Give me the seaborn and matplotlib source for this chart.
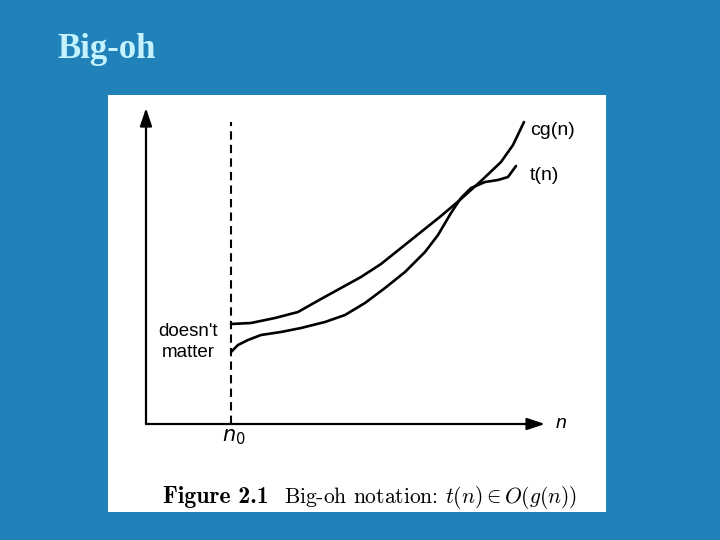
import matplotlib
matplotlib.use("Agg")
import matplotlib.pyplot as plt
import seaborn as sns
import pandas as pd

sns.set_theme(style="white")
plt.rcParams['font.family'] = ['Liberation Sans', 'DejaVu Sans']
plt.rcParams['mathtext.fontset'] = 'cm'
plt.rcParams['axes.unicode_minus'] = False

# Data (abstract units: n along x, running time along y)
cg_n = [85, 105, 129, 152, 175, 195, 215, 235, 255, 275, 295, 315, 335, 355, 367, 378]
cg_val = [100, 101, 106, 112, 125, 136, 147, 160, 176, 192, 208, 225, 243, 262, 279, 302]
t_n = [85, 92, 102, 115, 135, 155, 179, 199, 219, 239, 259, 279, 292, 305, 315, 325,
       339, 352, 362, 370]
t_val = [72, 79, 84, 89, 92, 96, 102, 109, 121, 136, 152, 172, 189, 211, 226, 236,
         242, 244, 247, 258]
n0 = 85
curve_labels = ["cg(n)", "t(n)"]

df = pd.concat([
    pd.DataFrame({"n": cg_n, "v": cg_val, "curve": curve_labels[0]}),
    pd.DataFrame({"n": t_n, "v": t_val, "curve": curve_labels[1]}),
])

BLUE = "#2181B9"
fig = plt.figure(figsize=(7.2, 5.4), dpi=100, facecolor=BLUE)

# Title
fig.text(57 / 720, 1 - 49 / 540, "Big-oh", family="Liberation Serif", weight="bold",
         fontsize=25, color="#C4F2FF", ha="left", va="center")

ax = fig.add_axes([108 / 720, 1 - 512 / 540, 498 / 720, 417 / 540])
ax.set_facecolor("white")
ax.set_xlim(-38, 460)
ax.set_ylim(-88, 329)
for s in ax.spines.values():
    s.set_visible(False)
ax.set_xticks([])
ax.set_yticks([])

# curves
sns.lineplot(data=df, x="n", y="v", units="curve", estimator=None, sort=False,
             color="black", lw=1.9, ax=ax, legend=False)
ax.set_xlabel("")
ax.set_ylabel("")

# axes with arrows
arrow_kw = dict(arrowstyle="-|>,head_length=0.9,head_width=0.3", color="black", lw=1.6,
                shrinkA=0, shrinkB=0)
ax.annotate("", xy=(0, 316), xytext=(0, 0), arrowprops=arrow_kw)
ax.annotate("", xy=(399, 0), xytext=(0, 0), arrowprops=arrow_kw)

# dashed n0 line
ax.plot([n0, n0], [0, 302], color="black", lw=1.5, ls=(0, (4, 2.5)))

# labels
ax.text(384, 294, curve_labels[0], fontsize=14, ha="left", va="center", color="black")
ax.text(384, 249, curve_labels[1], fontsize=14, ha="left", va="center", color="black")
ax.text(42, 82, "doesn't\nmatter", fontsize=13.5, ha="center", va="center",
        color="black", linespacing=1.3)
ax.text(415, 0, "n", fontsize=14, style="italic", ha="center", va="center", color="black")
ax.text(88, -13, r"$n_0$", fontsize=15, ha="center", va="center", color="black",
        math_fontfamily="dejavusans")

# caption
ax.text(17, -79, "Figure 2.1", fontsize=17, ha="left", va="baseline", color="black",
        family="cmb10")
ax.text(138, -79, r"Big-oh notation: $t(n) \in O(g(n))$", fontsize=15.5, ha="left",
        va="baseline", color="black", family="cmr10")

fig.savefig("out.png", dpi=100, facecolor=BLUE)
